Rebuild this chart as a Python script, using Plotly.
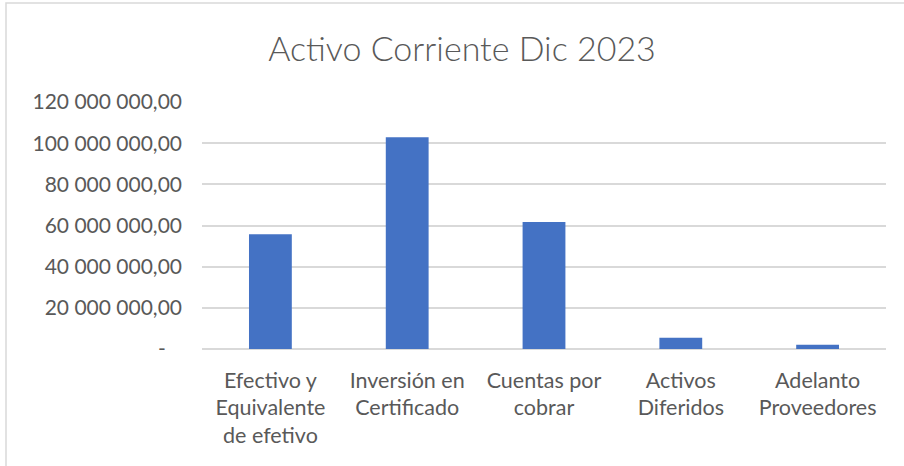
import plotly.graph_objects as go

categories = ["Efectivo y<br>Equivalente<br>de efetivo", "Inversión en<br>Certificado",
              "Cuentas por<br>cobrar", "Activos<br>Diferidos", "Adelanto<br>Proveedores"]
values = [55700000, 102900000, 61700000, 5500000, 2100000]
y_tickvals = [0, 20000000, 40000000, 60000000, 80000000, 100000000, 120000000]
y_ticktext = ["-\u00a0\u00a0\u00a0", "20 000 000,00", "40 000 000,00", "60 000 000,00",
              "80 000 000,00", "100 000 000,00", "120 000 000,00"]
title_text = "Activo Corriente Dic 2023"

W, H = 904, 466
L, R, T, B = 202, 886, 102, 349

fig = go.Figure(go.Bar(x=categories, y=values, marker=dict(color="#4472C4", line=dict(width=0)),
                       hoverinfo="skip"))
fig.update_layout(
    width=W, height=H,
    margin=dict(l=L, r=W - R, t=T, b=H - B, pad=0),
    paper_bgcolor="white", plot_bgcolor="white",
    bargap=0.687,
    showlegend=False,
    font=dict(family="Lato", color="#595959", size=21),
    title=dict(text=title_text, x=462 / W, xanchor="center", y=1 - 49 / H, yanchor="middle",
               xref="container", yref="container",
               font=dict(family="Lato", size=34, color="#595959", weight=300)),
)
fig.update_xaxes(showgrid=False, showline=False, ticks="", zeroline=False,
                 tickfont=dict(size=21.5, color="#595959"), ticklabelstandoff=16)
fig.update_yaxes(range=[0, 120000000], tickvals=y_tickvals, ticktext=y_ticktext,
                 showgrid=True, gridcolor="#D9D9D9", gridwidth=1.5, zeroline=True,
                 zerolinecolor="#D9D9D9", zerolinewidth=1.5, showline=False, ticks="",
                 tickfont=dict(size=21, color="#595959"), ticklabelstandoff=19)
# chart-area border (Excel chart frame)
fig.add_shape(type="rect", xref="paper", yref="paper",
              x0=(6 - L) / (R - L), x1=(910 - L) / (R - L),
              y0=(B - 480) / (B - T), y1=(B - 3) / (B - T),
              line=dict(color="#D9D9D9", width=1.5), fillcolor="rgba(0,0,0,0)", layer="below")
fig.write_html("out.html", config={"displayModeBar": False},
               post_script="document.body.style.margin='0';document.body.style.overflow='hidden';")
